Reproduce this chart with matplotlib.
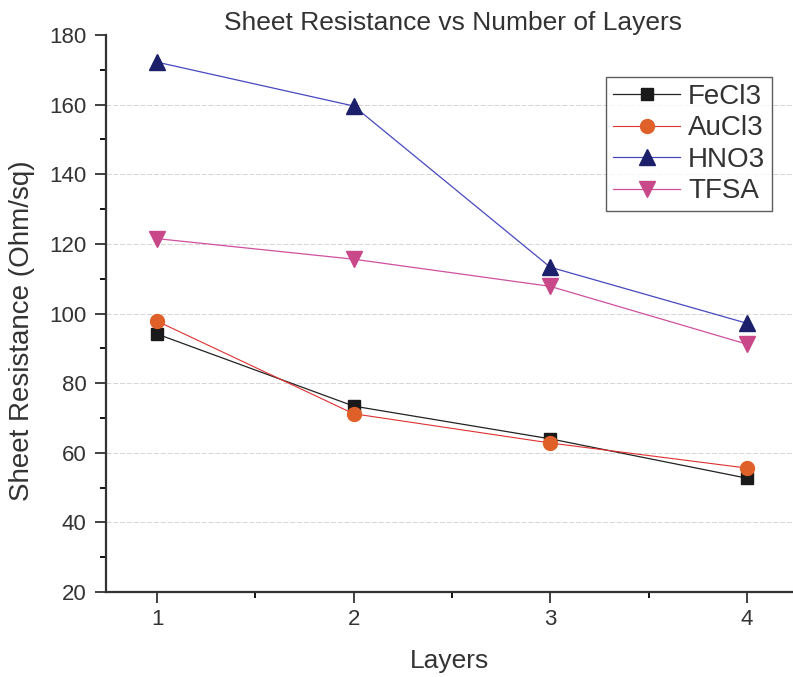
import numpy as np
import matplotlib
matplotlib.use("Agg")
import matplotlib.pyplot as plt
from matplotlib.ticker import MultipleLocator

layers = [1, 2, 3, 4]
fecl3 = [94.1, 73.4, 64.0, 52.7]
aucl3 = [97.8, 71.2, 62.8, 55.6]
hno3 = [172.2, 159.6, 113.3, 97.2]
tfsa = [121.5, 115.6, 107.8, 91.2]

plt.rcParams['font.family'] = ['Liberation Sans', 'DejaVu Sans']

fig = plt.figure(figsize=(7.93, 6.77), dpi=100)
ax = fig.add_axes([106/793, 1 - 592/677, 1 - 106/793, (592 - 35)/677])

# grid first so it stays behind
for yv in range(40, 180, 20):
    ax.axhline(yv, color="#d4d4d4", lw=0.7, ls=(0, (5, 2)), zorder=0)

ax.plot(layers, fecl3, c="#222222", lw=0.9, marker="s", ms=9, mfc="#1a1a1a", mec="#1a1a1a", label="FeCl3")
ax.plot(layers, aucl3, c="#e03030", lw=0.8, marker="o", ms=10, mfc="#e0602a", mec="#e0602a", label="AuCl3")
ax.plot(layers, hno3, c="#4848c0", lw=0.9, marker="^", ms=11, mfc="#1c1f6a", mec="#1c1f6a", label="HNO3")
ax.plot(layers, tfsa, c="#d050a0", lw=0.9, marker="v", ms=11, mfc="#c8488a", mec="#c8488a", label="TFSA")

ax.set_xlim(0.74, 4.235)
ax.set_ylim(20, 180)
ax.set_xticks(layers)
ax.xaxis.set_minor_locator(MultipleLocator(0.5))
ax.set_yticks(range(20, 181, 20))
ax.yaxis.set_minor_locator(MultipleLocator(10))
ax.tick_params(which="major", direction="out", length=8, width=1.3, labelsize=16, colors="#333333", pad=6)
ax.tick_params(which="minor", direction="out", length=4, width=1.3)
ax.tick_params(axis="x", which="major", pad=4)
ax.spines["top"].set_visible(False)
ax.spines["right"].set_visible(False)
ax.spines["left"].set_linewidth(1.6)
ax.spines["bottom"].set_linewidth(1.6)
ax.spines["left"].set_color("#333333")
ax.spines["bottom"].set_color("#333333")

ax.set_xlabel("Layers", fontsize=19, color="#333333", labelpad=14)
ax.set_ylabel("Sheet Resistance (Ohm/sq)", fontsize=20, color="#333333")
ax.yaxis.set_label_coords(-0.104, 0.47)
fig.text(0.571, 0.955, "Sheet Resistance vs Number of Layers", fontsize=19, color="#333333", ha="center")

leg = ax.legend(loc="upper right", bbox_to_anchor=(0.99, 0.95), fontsize=20, frameon=True,
                fancybox=False, edgecolor="#333333", handlelength=2.4, borderpad=0.25,
                labelspacing=0.2, handletextpad=0.3)
leg.get_frame().set_linewidth(1.0)
for t in leg.get_texts():
    t.set_color("#333333")

plt.savefig("out.png", dpi=100)
